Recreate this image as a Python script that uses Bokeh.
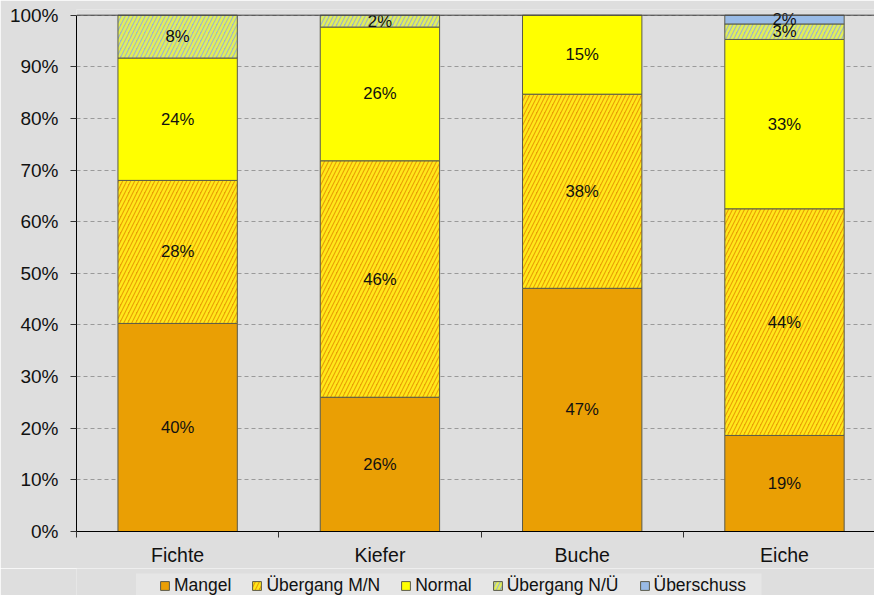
from bokeh.plotting import figure
from bokeh.layouts import column
from bokeh.models import (Range1d, FixedTicker, Span, Legend, LegendItem,
                          ColumnDataSource, BoxAnnotation)
from bokeh.core.properties import value
from bokeh.embed import file_html
from bokeh.resources import INLINE

# ---- data (percent of each tree species) ----
categories = ["Fichte", "Kiefer", "Buche", "Eiche"]
series_names = ["Mangel", "Übergang M/N", "Normal", "Übergang N/Ü", "Überschuss"]
mangel = [40.3, 26.0, 47.1, 18.6]
uebergang_mn = [27.7, 45.8, 37.6, 43.9]
normal = [23.7, 25.9, 15.3, 32.8]
uebergang_nu = [8.3, 2.3, 0.0, 3.0]
ueberschuss = [0.0, 0.0, 0.0, 1.7]
y_ticks = [0, 10, 20, 30, 40, 50, 60, 70, 80, 90, 100]

series_values = [mangel, uebergang_mn, normal, uebergang_nu, ueberschuss]

styles = [
    dict(fill_color="#EA9F04"),
    dict(fill_color="#EA9F04", hatch_pattern="/", hatch_color="#FFE81A", hatch_scale=8, hatch_weight=2.5),
    dict(fill_color="#FFFF00"),
    dict(fill_color="#9CB4C8", hatch_pattern="/", hatch_color="#E2EE5A", hatch_scale=8, hatch_weight=2.5),
    dict(fill_color="#99BBE6"),
]
BAR_LINE = dict(line_color="#5A5A4A", line_width=1)

FONT = "Liberation Sans"
BG = "#DEDEDE"
W = 874
LEFT = 76

# ---------------- main chart ----------------
p = figure(width=W, height=568, output_backend="svg", toolbar_location=None,
           x_range=Range1d(0, 3.945), y_range=Range1d(0, 101.1))
p.min_border = 0
p.min_border_left = LEFT
p.min_border_right = 0
p.min_border_top = 9
p.min_border_bottom = 36
p.background_fill_color = BG
p.border_fill_color = BG
p.outline_line_color = None

p.xgrid.visible = False
p.ygrid.ticker = FixedTicker(ticks=y_ticks)
p.ygrid.grid_line_color = "#9A9A9A"
p.ygrid.grid_line_dash = "4 3"
p.ygrid.grid_line_width = 1

p.add_layout(Span(location=100, dimension="width", line_color="#404040", line_width=1))

# ---------------- legend strip ----------------
LH = 27
pl = figure(width=W, height=LH, output_backend="svg", toolbar_location=None,
            x_range=Range1d(LEFT, W), y_range=Range1d(0, LH),
            x_axis_location=None, y_axis_location=None)
pl.min_border = 0
pl.min_border_left = LEFT
pl.background_fill_color = BG
pl.border_fill_color = BG
pl.outline_line_color = None
pl.grid.visible = False
pl.add_layout(BoxAnnotation(left=135.5, right=761, bottom=-5, top=22,
                            fill_color="#E6E6E6", fill_alpha=1, line_color=None))

x_pos = [i + 0.5 for i in range(len(categories))]
bottoms = [0.0] * len(categories)
items = []
for name, vals, st in zip(series_names, series_values, styles):
    xs, bs, ts, ms, labs = [], [], [], [], []
    for i, v in enumerate(vals):
        if v > 0:
            xs.append(x_pos[i])
            bs.append(bottoms[i])
            ts.append(bottoms[i] + v)
            ms.append(bottoms[i] + v / 2)
            labs.append(f"{round(v)}%")
        bottoms[i] += v
    src = ColumnDataSource(dict(x=xs, bottom=bs, top=ts, mid=ms, label=labs))
    p.vbar(x="x", bottom="bottom", top="top", width=0.59, source=src, **BAR_LINE, **st)
    p.text(x="x", y="mid", text="label", source=src, text_align="center",
           text_baseline="middle", text_font=value(FONT), text_font_size="16.7px",
           text_color="#111111")
    # hidden twin in the legend strip, only used for the legend swatch
    rl = pl.vbar(x="x", bottom="bottom", top="top", width=0.59, source=src,
                 visible=False, **BAR_LINE, **st)
    items.append(LegendItem(label=name, renderers=[rl]))

yax = p.yaxis[0]
yax.ticker = FixedTicker(ticks=y_ticks)
yax.major_label_overrides = {t: f"{t}%" for t in y_ticks}
yax.bounds = (0, 100)
yax.axis_line_color = "black"
yax.major_tick_in = 0
yax.major_tick_out = 6
yax.major_tick_line_color = "#333333"
yax.minor_tick_line_color = None
yax.major_label_text_font = FONT
yax.major_label_text_font_size = "19px"
yax.major_label_text_color = "#111111"
yax.major_label_standoff = 12

xax = p.xaxis[0]
xax.ticker = FixedTicker(ticks=x_pos, minor_ticks=[0, 1, 2, 3, 4])
xax.major_label_overrides = {x: c for x, c in zip(x_pos, categories)}
xax.axis_line_color = "black"
xax.major_tick_in = 0
xax.major_tick_out = 0
xax.minor_tick_in = 0
xax.minor_tick_out = 6
xax.minor_tick_line_color = "#333333"
xax.major_label_text_font = FONT
xax.major_label_text_font_size = "19.5px"
xax.major_label_text_color = "#111111"
xax.major_label_standoff = 6

legend = Legend(items=items, orientation="horizontal", location=(159 - LEFT, -1),
                label_text_font=FONT, label_text_font_size="17.5px",
                label_text_color="#111111", glyph_width=11, glyph_height=11,
                label_standoff=4, spacing=20, padding=0, margin=0,
                label_height=20, border_line_color=None,
                background_fill_alpha=0, inactive_fill_alpha=0)
pl.add_layout(legend)

layout = column(p, pl, spacing=0)
open("out.html", "w").write(file_html(layout, INLINE))
